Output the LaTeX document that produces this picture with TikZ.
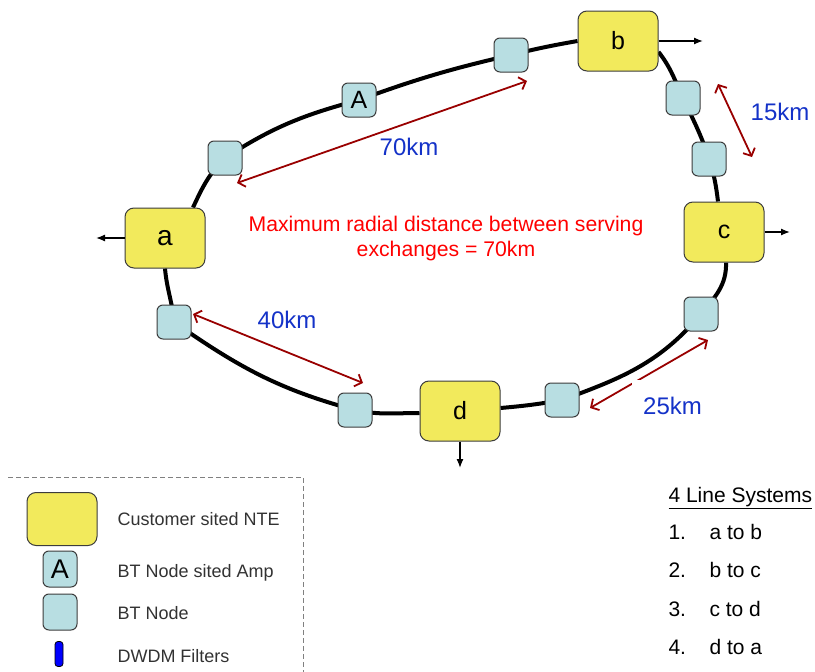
\documentclass[tikz,border=0pt]{standalone}
\usepackage{fontspec}
\setmainfont{Liberation Sans}
\usetikzlibrary{arrows.meta,backgrounds,calc}
\definecolor{nteyellow}{RGB}{242,234,92}
\definecolor{btblue}{RGB}{184,222,226}
\definecolor{darkred}{RGB}{153,0,0}
\definecolor{kmblue}{RGB}{20,50,200}
\definecolor{legtext}{RGB}{50,50,50}
\definecolor{bordergray}{RGB}{60,60,60}
\begin{document}
\begin{tikzpicture}[x=1pt,y=1pt,
  nte/.style={draw=bordergray, line width=1pt, fill=nteyellow, rounded corners=9pt,
    minimum width=80pt, minimum height=60pt, inner sep=0pt, font=\fontsize{25}{28}\selectfont},
  btnode/.style={draw=bordergray, line width=1pt, fill=btblue, rounded corners=6pt,
    minimum width=34pt, minimum height=34pt, inner sep=0pt, font=\fontsize{25}{28}\selectfont},
  ring/.style={line width=4pt, black},
  outarrow/.style={line width=1.3pt, -{Latex[length=9pt,width=7pt]}},
  dist/.style={line width=1.8pt, darkred,
    {Straight Barb[length=6pt,width=13pt]}-{Straight Barb[length=6pt,width=13pt]}},
  km/.style={text=kmblue, font=\fontsize{24}{28}\selectfont},
  legend/.style={text=legtext, font=\fontsize{18}{20}\selectfont, anchor=base west},
  listtext/.style={font=\fontsize{21}{24}\selectfont, anchor=base west},
]
\useasboundingbox (0,0) rectangle (815,-672);

% customer NTE nodes
\node[nte, font=\fontsize{28}{30}\selectfont] (a) at (165,-238) {a};
\node[nte] (b) at (618,-41) {b};
\node[nte] (c) at (724,-232) {c};
\node[nte] (d) at (460,-411) {d};

% BT nodes
\node[btnode] (n1) at (225,-158) {};
\node[btnode] (A)  at (359,-100) {A};
\node[btnode] (n2) at (511,-55) {};
\node[btnode] (n3) at (683,-98) {};
\node[btnode] (n4) at (709,-159) {};
\node[btnode] (n5) at (701,-314) {};
\node[btnode] (n6) at (562,-400) {};
\node[btnode] (n7) at (355,-410) {};
\node[btnode] (n8) at (174,-322) {};

% ring
\begin{scope}[on background layer]
\draw[ring] ([xshift=28pt]a.north) to[out=65,in=225] (n1.center);
\draw[ring] (n1.center) to[out=33,in=195] (A.center);
\draw[ring] (A.center) to[out=20,in=193] (n2.center);
\draw[ring] (n2.center) to[out=14,in=190] (b.west);
\draw[ring] (b.-15) to[out=-52,in=115] (n3.center);
\draw[ring] (n3.center) to[out=-65,in=108] (n4.center);
\draw[ring] (n4.center) to[out=-72,in=97] ([xshift=-6pt]c.north);
\draw[ring] ([xshift=2pt]c.south) to[out=-88,in=50] (n5.center);
\draw[ring] (n5.center) to[out=230,in=20] (n6.center);
\draw[ring] (n6.center) to[out=190,in=5] ([yshift=3pt]d.east);
\draw[ring] ([yshift=-2pt]d.west) to[out=180,in=-12] (n7.center);
\draw[ring] (n7.center) to[out=165,in=-35] (n8.center);
\draw[ring] (n8.center) to[out=95,in=-85] (a.south);
\end{scope}

% outgoing arrows
\coordinate (aout) at (96,-238);
\coordinate (bout) at (703,-41);
\coordinate (cout) at (790,-232);
\coordinate (dout) at (460,-468);
\draw[outarrow] (a) -- (aout);
\draw[outarrow] (b) -- (bout);
\draw[outarrow] (c) -- (cout);
\draw[outarrow] (d) -- (dout);

% distance arrows
\coordinate (r70a) at (237,-183); \coordinate (r70b) at (527,-81);
\coordinate (r15a) at (718,-84);  \coordinate (r15b) at (752,-157);
\coordinate (r40a) at (193,-314); \coordinate (r40b) at (363,-383);
\coordinate (r25a) at (590,-408); \coordinate (r25b) at (708,-340);
\draw[dist] (r70a) -- (r70b);
\draw[dist] (r15a) -- (r15b);
\draw[dist] (r40a) -- (r40b);
\draw[dist] (r25a) -- (r25b);

\node[km] (l70) at (409,-147) {70km};
\node[km] (l15) at (780,-112) {15km};
\node[km] (l40) at (287,-320) {40km};
\node[km, fill=white, anchor=north west, inner xsep=11pt, inner ysep=17pt] (l25) at (632,-380) {25km};

% central note
\node[text=red, font=\fontsize{21.2}{25}\selectfont, align=center] (note) at (446,-239)
  {Maximum radial distance between serving\\exchanges = 70km};

% legend
\draw[dashed, gray, line width=0.8pt, dash pattern=on 5pt off 3pt] (8,-477) -- (303,-477) -- (303,-672);
\node[nte, minimum width=70pt, minimum height=53pt] (legnte) at (62,-519) {};
\node[btnode, minimum height=36pt, font=\fontsize{27}{30}\selectfont] (lega) at (60,-569) {A};
\node[btnode, minimum height=36pt] (legbt) at (60,-612) {};
\node[draw=black, fill=blue, line width=0.8pt, rounded corners=3pt, minimum width=8pt,
  minimum height=25pt, inner sep=0pt] (legdw) at (59,-654) {};
\node[legend] (t1) at (114,-525.5) {Customer sited NTE};
\node[legend] (t2) at (114,-577.5) {BT Node sited Amp};
\node[legend] (t3) at (114,-619.5) {BT Node};
\node[legend] (t4) at (114,-662.5) {DWDM Filters};

% line systems list
\node[listtext] (lhead) at (665,-502.5) {\underline{4 Line Systems}};
\node[listtext] (i1) at (665,-539.5) {1.};
\node[listtext] (j1) at (706,-539.5) {a to b};
\node[listtext] (i2) at (665,-577.5) {2.};
\node[listtext] (j2) at (706,-577.5) {b to c};
\node[listtext] (i3) at (665,-616.5) {3.};
\node[listtext] (j3) at (706,-616.5) {c to d};
\node[listtext] (i4) at (665,-654.5) {4.};
\node[listtext] (j4) at (706,-654.5) {d to a};
\end{tikzpicture}
\end{document}
